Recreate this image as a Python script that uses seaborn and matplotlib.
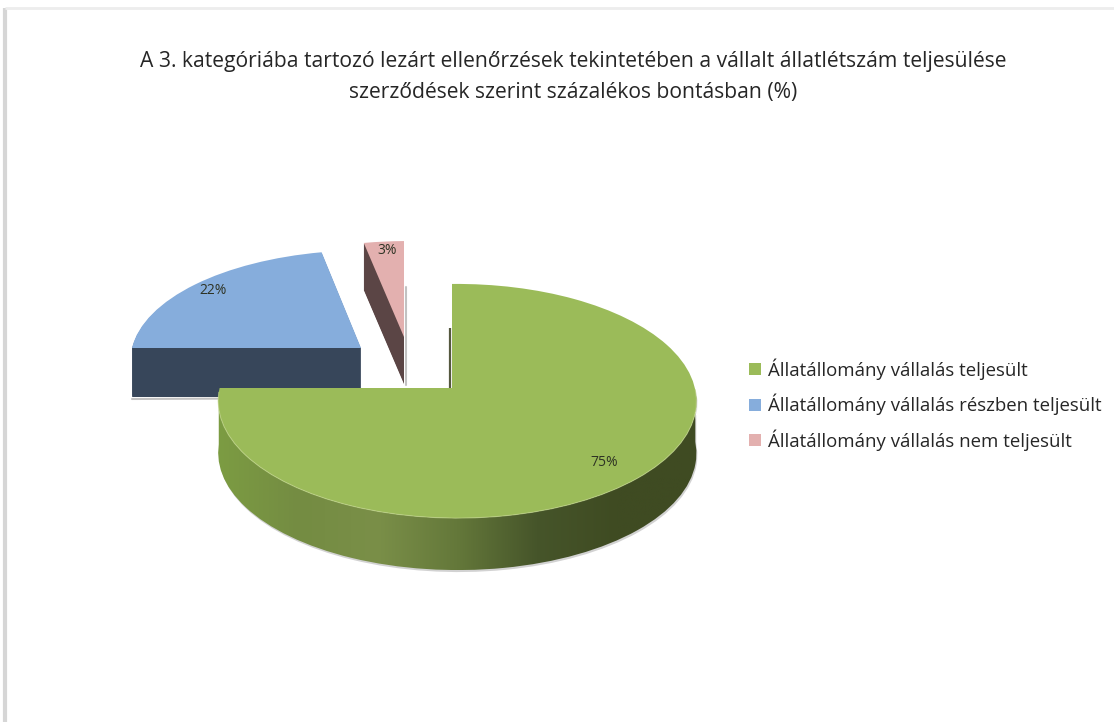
import numpy as np
import matplotlib
matplotlib.use('Agg')
import matplotlib.pyplot as plt
import seaborn as sns
from matplotlib.patches import Patch, Polygon
from matplotlib.transforms import Transform

# values
categories = ['Állatállomány vállalás teljesült',
              'Állatállomány vállalás részben teljesült',
              'Állatállomány vállalás nem teljesült']
shares = [75, 22, 3]
title = ('A 3. kategóriába tartozó lezárt ellenőrzések tekintetében a vállalt állatlétszám teljesülése\n'
         'szerződések szerint százalékos bontásban (%)')

top_colors = ['#9BBB59', '#86ADDC', '#E3B0AF']
side_colors = ['#4A5A2A', '#37465A', '#5B4545']
rim_colors = ['#7C9C42', '#748C42', '#7A8F48', '#64783A', '#46552A', '#3F4B22', '#3F4B22']

sns.set_theme(style='white')
plt.rcParams['font.family'] = ['Open Sans', 'DejaVu Sans']


class TiltedPie(Transform):
    '''unit circle of the pie -> image pixels, with a bit of perspective'''
    input_dims = 2
    output_dims = 2

    def __init__(self, cx, cy, rx, ry, drop=0):
        super().__init__()
        self.cx, self.cy, self.rx, self.ry, self.drop = cx, cy, rx, ry, drop

    def transform_non_affine(self, xy):
        xy = np.asarray(xy, dtype=float)
        w = 1 + 0.111 * xy[:, 1] - 0.022 * xy[:, 0]
        return np.column_stack([self.cx + self.rx * xy[:, 0] / w,
                                self.cy - self.ry * xy[:, 1] / w + self.drop])


def draw_slice(ax, share, start, color, place, drop=0):
    wedges, _ = ax.pie([share, 100 - share], startangle=start, counterclock=False,
                       colors=[color, 'none'], wedgeprops={'linewidth': 0})
    wedges[1].set_visible(False)
    wedges[0].set_transform(TiltedPie(*place, drop=drop) + ax.transData)
    return wedges[0]


fig = plt.figure(figsize=(11.14, 7.22), dpi=100, facecolor='white')
ax = fig.add_axes([0, 0, 1, 1])

starts = [90 - 3.6 * sum(shares[:i]) for i in range(len(shares))]
places = [(452, 388, 237.5, 115.6), (361, 348, 234, 108.5), (404, 337, 239, 106.6)]
depths = [52, 49, 47]

# exploded slices at the back, stacked copies make the side walls
for i in [1, 2]:
    for d in range(depths[i], 0, -1):
        draw_slice(ax, shares[i], starts[i], side_colors[i], places[i], drop=d)
    draw_slice(ax, shares[i], starts[i], top_colors[i], places[i])

# soft edges next to the walls
ax.plot([132, 361], [399, 398], color='#9A9A9A', lw=1.5, alpha=0.6, zorder=0.5)
ax.plot([406, 406], [287, 385], color='#9A9A9A', lw=1.5, alpha=0.6, zorder=0.5)
ax.plot([450, 450], [328, 388], color='#55583F', lw=1.6, solid_capstyle='butt')

# big slice: gradient rim, clipped to the lower arc
main = draw_slice(ax, shares[0], starts[0], top_colors[0], places[0])
main.set_zorder(3)
cy = places[0][1]
outline = TiltedPie(*places[0]).transform_path(main.get_path()).to_polygons(closed_only=False)[0]
arc = outline[outline[:, 1] > cy + 0.01]
rim_shape = np.vstack([arc, (arc + [0, depths[0]])[::-1]])

shadow = Polygon(rim_shape + [1, 2], closed=True, fc='#808080', ec='none', alpha=0.35, zorder=2)
ax.add_patch(shadow)
rim = Polygon(rim_shape, closed=True, fc='none', ec='none', zorder=2.1)
ax.add_patch(rim)
rim_cmap = sns.blend_palette(rim_colors, as_cmap=True)
img = ax.imshow(np.linspace(0, 1, 256)[None, :], cmap=rim_cmap, aspect='auto', zorder=2.1,
                extent=(arc[:, 0].min(), arc[:, 0].max(), arc[:, 1].max() + depths[0], cy))
img.set_clip_path(rim)
ax.plot(arc[:, 0], arc[:, 1], color='#C2D68A', lw=0.8, alpha=0.6, zorder=3.1)

# frame of the screenshot
ax.plot([5, 5], [8, 722], color='#D6D6D6', lw=3, solid_capstyle='butt')
ax.plot([5, 1114], [8, 8], color='#EDEDED', lw=2, solid_capstyle='butt')

ax.text(573, 77, title, ha='center', va='center', fontsize=15.2, color='#262626', linespacing=1.63)

label_spots = [(604, 463), (213, 290), (387, 250)]
for share, (lx, ly) in zip(shares, label_spots):
    ax.text(lx, ly, f'{share}%', ha='center', va='center', fontsize=10, color='#2E3324', zorder=4)

handles = [Patch(fc=c, ec='none') for c in top_colors]
ax.legend(handles, categories, loc='upper left', bbox_to_anchor=(742, 351), bbox_transform=ax.transData,
          frameon=False, fontsize=13.4, handlelength=0.6, handleheight=0.6, handletextpad=0.4,
          labelspacing=0.75, labelcolor='#262626', borderpad=0.4, borderaxespad=0)

ax.set_aspect('auto')
ax.set_xlim(0, 1114)
ax.set_ylim(722, 0)
ax.axis('off')
fig.savefig('out.png', dpi=100, facecolor='white')
